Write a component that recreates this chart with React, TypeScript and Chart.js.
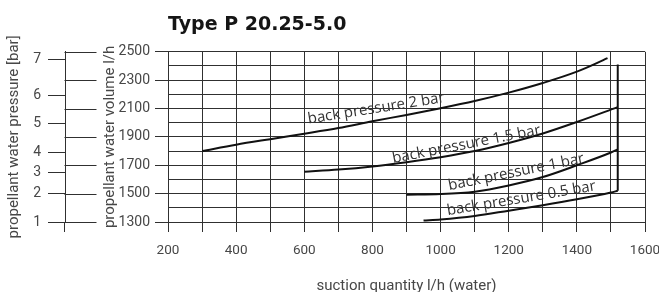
import React, { useEffect, useRef } from 'react';
import { Chart, registerables } from 'chart.js';

Chart.register(...registerables);

// ---- data ----
const suction2bar = [300, 400, 500, 600, 700, 800, 900, 1000, 1100, 1200, 1300, 1400, 1490];
const volume2bar = [1800, 1845, 1884, 1922, 1962, 2010, 2055, 2102, 2153, 2212, 2280, 2360, 2455];

const suction15bar = [600, 700, 800, 900, 1000, 1100, 1200, 1300, 1400, 1520];
const volume15bar = [1655, 1670, 1692, 1722, 1757, 1800, 1857, 1924, 2005, 2110];

const suction1bar = [900, 1000, 1100, 1200, 1300, 1400, 1500, 1520];
const volume1bar = [1493, 1497, 1514, 1558, 1617, 1700, 1790, 1812];

const suction05bar = [950, 1000, 1100, 1200, 1300, 1400, 1500, 1520];
const volume05bar = [1310, 1318, 1343, 1380, 1418, 1460, 1508, 1520];

const suctionLimit = [1520, 1520];
const volumeLimit = [2410, 1520];

const curveLabels = ['back pressure 2 bar', 'back pressure 1.5 bar', 'back pressure 1 bar', 'back pressure 0.5 bar'];
const curveLabelSuction = [811, 1076, 1222, 1237];
const curveLabelVolume = [2100, 1847, 1651, 1465];

const volumeTickLabels = [1300, 1500, 1700, 1900, 2100, 2300, 2500];
const suctionTickLabels = [200, 400, 600, 800, 1000, 1200, 1400, 1600];
const pressureTickLabels = ['1', '2', '3', '4', '5', '6', '7'];
const pressureTickVolume = [1300, 1500, 1648, 1790, 1997, 2193, 2443];

// ---- styles ----
const GRID = '#303030';
const TEXT = '#474747';
const LABEL_ANGLES = [-9, -11, -11.5, -9.5];

const zip = (xs: number[], ys: number[]) => xs.map((x, i) => ({ x, y: ys[i] }));

const decorPlugin = {
  id: 'decor',
  afterDraw(chart: any) {
    const { ctx, chartArea, scales } = chart;
    const yp = scales.yp;
    const y = scales.y;
    const x = scales.x;
    ctx.save();
    ctx.strokeStyle = GRID;
    ctx.lineWidth = 1;
    const bx = Math.round(yp.right) - 0.5;
    ctx.beginPath();
    ctx.moveTo(bx, chartArea.bottom);
    ctx.lineTo(bx, chartArea.bottom + 10);
    for (const v of volumeTickLabels) {
      const py = Math.round(y.getPixelForValue(v)) + 0.5;
      ctx.moveTo(bx, py);
      ctx.lineTo(bx + 32, py);
    }
    ctx.stroke();

    ctx.fillStyle = '#333';
    ctx.font = '15px "Open Sans"';
    ctx.textAlign = 'center';
    ctx.textBaseline = 'middle';
    curveLabels.forEach((t, i) => {
      const px = x.getPixelForValue(curveLabelSuction[i]);
      const py = y.getPixelForValue(curveLabelVolume[i]);
      ctx.save();
      ctx.translate(px, py);
      ctx.rotate((LABEL_ANGLES[i] * Math.PI) / 180);
      ctx.fillText(t, 0, 0);
      ctx.restore();
    });
    ctx.restore();
  },
};

export default function App() {
  const ref = useRef<HTMLCanvasElement | null>(null);

  useEffect(() => {
    if (!ref.current) return;
    const lineStyle = {
      borderColor: '#111',
      borderWidth: 2,
      pointRadius: 0,
      fill: false,
      cubicInterpolationMode: 'monotone' as const,
    };
    const chart = new Chart(ref.current, {
      type: 'line',
      data: {
        datasets: [
          { ...lineStyle, label: '2 bar', data: zip(suction2bar, volume2bar) },
          { ...lineStyle, label: '1.5 bar', data: zip(suction15bar, volume15bar) },
          { ...lineStyle, label: '1 bar', data: zip(suction1bar, volume1bar) },
          { ...lineStyle, label: '0.5 bar', data: zip(suction05bar, volume05bar) },
          { ...lineStyle, label: 'limit', data: zip(suctionLimit, volumeLimit), tension: 0, cubicInterpolationMode: 'default' as const },
        ],
      },
      options: {
        responsive: false,
        animation: false,
        layout: { padding: { left: 0, right: 14, top: 0, bottom: 0 } },
        plugins: {
          legend: { display: false },
          tooltip: { enabled: false },
          title: {
            display: true,
            text: 'Type P 20.25-5.0',
            align: 'start',
            fullSize: false,
            color: '#151515',
            font: { family: '"DejaVu Sans"', size: 19, weight: 'bold' },
            padding: { top: 14, bottom: 15 },
          },
        },
        scales: {
          x: {
            type: 'linear',
            position: 'bottom',
            min: 200,
            max: 1600,
            afterFit: (s: any) => {
              s.height = 70;
              s.paddingLeft = 0;
              s.paddingRight = 0;
            },
            ticks: {
              stepSize: 100,
              autoSkip: false,
              maxRotation: 0,
              padding: 11,
              color: TEXT,
              font: { family: 'Roboto', size: 13.5 },
              callback: (v: any) => (suctionTickLabels.includes(Number(v)) ? String(v) : ''),
            },
            grid: { color: GRID, tickColor: GRID, tickLength: 10, lineWidth: 1 },
            border: { color: GRID },
            title: {
              display: true,
              text: 'suction quantity l/h (water)',
              color: TEXT,
              font: { family: 'Roboto', size: 15 },
              padding: { top: 0, bottom: -3 },
            },
          },
          y: {
            type: 'linear',
            position: 'left',
            weight: 0,
            min: 1300,
            max: 2500,
            afterFit: (s: any) => { s.width = 103; },
            ticks: {
              stepSize: 100,
              autoSkip: false,
              padding: 5,
              color: TEXT,
              font: { family: 'Roboto', size: 14 },
              callback: (v: any) => (volumeTickLabels.includes(Number(v)) ? String(v) : ''),
            },
            grid: {
              color: GRID,
              lineWidth: 1,
              tickLength: 13,
              tickColor: (c: any) => (c.tick && volumeTickLabels.includes(c.tick.value) ? GRID : 'rgba(0,0,0,0)'),
            },
            border: { color: GRID },
            title: {
              display: true,
              text: 'propellant water volume l/h',
              color: TEXT,
              font: { family: 'Roboto', size: 15 },
              padding: { top: 36, bottom: 0 },
            },
          },
          yp: {
            type: 'linear',
            position: 'left',
            weight: 1,
            min: 1300,
            max: 2500,
            afterFit: (s: any) => { s.width = 65; },
            afterBuildTicks: (s: any) => {
              s.ticks = pressureTickVolume.map((v) => ({ value: v }));
            },
            ticks: {
              autoSkip: false,
              padding: 7,
              color: TEXT,
              font: { family: 'Roboto', size: 14 },
              callback: (_v: any, i: number) => pressureTickLabels[i],
            },
            grid: { drawOnChartArea: false, tickLength: 17, color: GRID, tickColor: GRID },
            border: { display: true, color: GRID },
            title: {
              display: true,
              text: 'propellant water pressure [bar]',
              color: TEXT,
              font: { family: 'Roboto', size: 15 },
              padding: { top: 5, bottom: 0 },
            },
          },
        },
      } as any,
      plugins: [decorPlugin],
    });
    return () => chart.destroy();
  }, []);

  return (
    <div style={{ position: 'absolute', left: 0, top: 0, width: 659, height: 292, background: '#fff' }}>
      <canvas ref={ref} width={659} height={292} style={{ display: 'block', width: 659, height: 292 }} />
    </div>
  );
}
